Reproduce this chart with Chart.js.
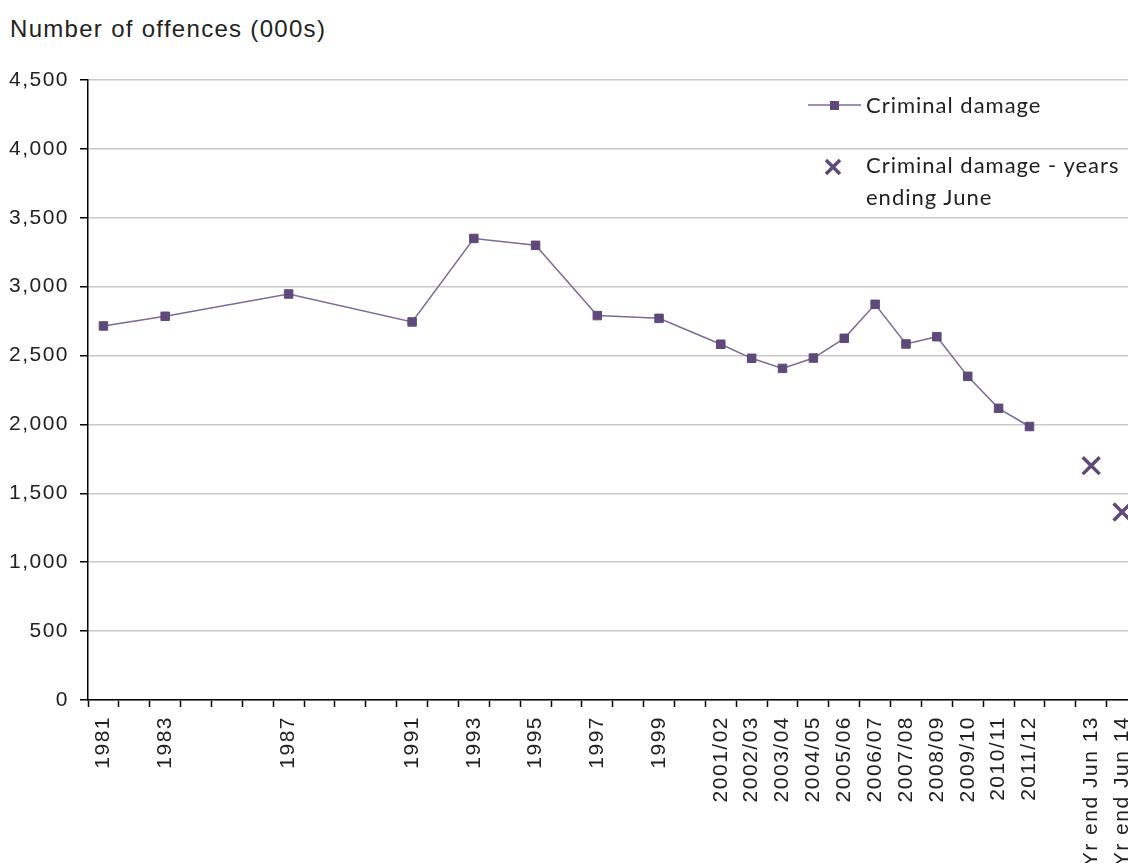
<!DOCTYPE html>
<html>
<head>
<meta charset="utf-8">
<script src="https://cdn.jsdelivr.net/npm/chart.js@4/dist/chart.umd.min.js"></script>
<style>
  html, body { margin: 0; padding: 0; background: #fff; }
  #wrap { position: relative; width: 1128px; height: 863px; overflow: hidden; }
  #chartBox { position: absolute; left: 0; top: 0; width: 1153px; height: 863px; }
  #title { position: absolute; left: 10px; top: 17px; line-height: 24px; font-family: "Liberation Sans", Arial, sans-serif; font-size: 24px; letter-spacing: 1.3px; color: #222; }
  .leg { position: absolute; font-family: Lato, "Open Sans", sans-serif; font-size: 22px; letter-spacing: 1px; color: #222; line-height: 32px; }
</style>
</head>
<body>
<div id="wrap">
  <div id="title">Number of offences (000s)</div>
  <div id="chartBox"><canvas id="grafico"></canvas></div>
  <div class="leg" style="left:866px; top:89px;">Criminal damage</div>
  <div class="leg" style="left:866px; top:149px;">Criminal damage - years<br>ending June</div>
</div>
<script>
// Categorias (uma por posição no eixo x)
const categorias = [
    '1981', '1982', '1983', '1984', '1985', '1986', '1987', '1988', '1989', '1990',
    '1991', '1992', '1993', '1994', '1995', '1996', '1997', '1998', '1999', '2000',
    '2001/02', '2002/03', '2003/04', '2004/05', '2005/06', '2006/07', '2007/08',
    '2008/09', '2009/10', '2010/11', '2011/12', '', 'Yr end Jun 13', 'Yr end Jun 14'
];

// Rótulos que aparecem no eixo x
const rotulosVisiveis = [
    '1981', '1983', '1987', '1991', '1993', '1995', '1997', '1999',
    '2001/02', '2002/03', '2003/04', '2004/05', '2005/06', '2006/07', '2007/08',
    '2008/09', '2009/10', '2010/11', '2011/12', 'Yr end Jun 13', 'Yr end Jun 14'
];

// Dados (milhares)
const danoCriminal = [
    2715, null, 2785, null, null, null, 2947, null, null, null,
    2744, null, 3350, null, 3300, null, 2790, null, 2770, null,
    2582, 2480, 2407, 2482, 2625, 2872, 2584, 2637, 2349, 2117, 1985,
    null, null, null
];
const danoCriminalJunho = [
    null, null, null, null, null, null, null, null, null, null,
    null, null, null, null, null, null, null, null, null, null,
    null, null, null, null, null, null, null, null, null, null, null,
    null, 1701, 1365
];

const ticksY = [0, 500, 1000, 1500, 2000, 2500, 3000, 3500, 4000, 4500];

const fonteEixo = { family: '"Liberation Sans", Arial, sans-serif', size: 21 };

// Espaçamento entre letras (texto do Excel é mais largo)
const espacamento = {
    id: 'espacamento',
    beforeLayout(chart) { chart.ctx.letterSpacing = '1.5px'; },
    beforeDraw(chart) { chart.ctx.letterSpacing = '1.5px'; }
};

// Legenda desenhada no canvas (marcadores)
const legendaMarcadores = {
    id: 'legendaMarcadores',
    afterDraw(chart) {
        const ctx = chart.ctx;
        ctx.save();
        ctx.strokeStyle = '#7d6a9c';
        ctx.lineWidth = 1.5;
        ctx.beginPath();
        ctx.moveTo(808, 105);
        ctx.lineTo(861, 105);
        ctx.stroke();
        ctx.fillStyle = '#5f497a';
        ctx.fillRect(830, 101, 9, 9);
        ctx.strokeStyle = '#5f497a';
        ctx.lineWidth = 3.5;
        ctx.beginPath();
        ctx.moveTo(826, 160); ctx.lineTo(840, 174);
        ctx.moveTo(840, 160); ctx.lineTo(826, 174);
        ctx.stroke();
        ctx.restore();
    }
};

const ctx = document.getElementById('grafico').getContext('2d');
new Chart(ctx, {
    type: 'line',
    data: {
        labels: categorias,
        datasets: [{
            label: 'Criminal damage',
            data: danoCriminal,
            spanGaps: true,
            borderColor: '#7d6a9c',
            borderWidth: 1.5,
            pointStyle: 'rect',
            pointRadius: 6,
            pointBackgroundColor: '#5f497a',
            pointBorderColor: '#5f497a',
            pointBorderWidth: 1
        }, {
            label: 'Criminal damage - years ending June',
            data: danoCriminalJunho,
            showLine: false,
            pointStyle: 'crossRot',
            pointRadius: 12,
            pointBorderWidth: 3.5,
            pointBorderColor: '#5f497a',
            pointBackgroundColor: '#5f497a'
        }]
    },
    options: {
        responsive: true,
        maintainAspectRatio: false,
        animation: false,
        layout: { padding: { left: 0, top: 80, right: 0, bottom: 0 } },
        plugins: { legend: { display: false }, tooltip: { enabled: false } },
        scales: {
            x: {
                offset: true,
                grid: { offset: true, drawOnChartArea: false, drawTicks: true, tickLength: 7, color: '#000', tickWidth: 1.5 },
                border: { color: '#000', width: 1.5 },
                ticks: {
                    autoSkip: false,
                    minRotation: 90,
                    maxRotation: 90,
                    padding: 9,
                    color: '#222',
                    font: fonteEixo,
                    callback: function (value) {
                        const lbl = this.getLabelForValue(value);
                        return rotulosVisiveis.includes(lbl) ? lbl : '';
                    }
                },
                afterFit(scale) {
                    scale.height = 163;
                    scale.paddingLeft = 0;
                    scale.paddingRight = 0;
                }
            },
            y: {
                min: 0,
                max: 4500,
                afterBuildTicks(scale) { scale.ticks = ticksY.map(v => ({ value: v })); },
                grid: { color: '#c8c8c8', lineWidth: 1.5, drawTicks: true, tickLength: 8, tickColor: '#000' },
                border: { color: '#000', width: 1.5 },
                ticks: {
                    padding: 11,
                    color: '#222',
                    font: fonteEixo,
                    callback: v => v.toLocaleString('en-US')
                },
                afterFit(scale) {
                    scale.width = 88;
                    scale.paddingTop = 0;
                    scale.paddingBottom = 0;
                }
            }
        }
    },
    plugins: [espacamento, legendaMarcadores]
});
</script>
</body>
</html>
